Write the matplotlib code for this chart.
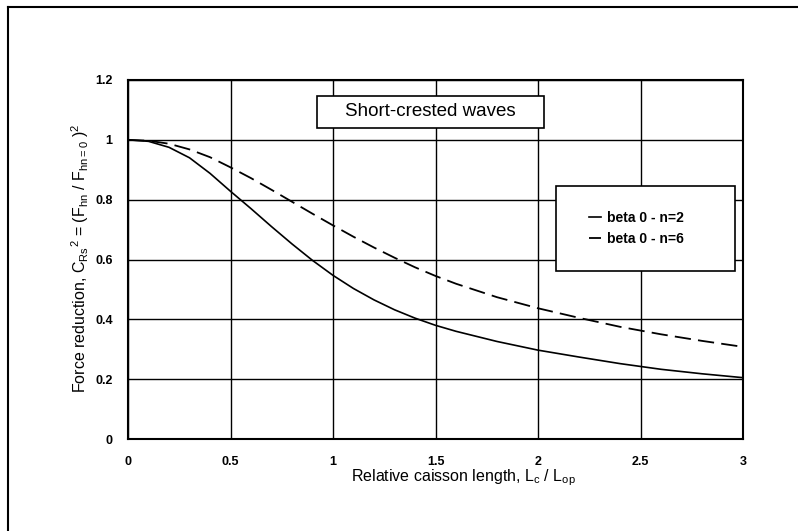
import matplotlib
matplotlib.use("Agg")
import matplotlib.pyplot as plt
from matplotlib.patches import Rectangle
from matplotlib.lines import Line2D

plt.rcParams['font.family'] = ['Liberation Sans', 'DejaVu Sans']
plt.rcParams['mathtext.fontset'] = 'custom'
plt.rcParams['mathtext.rm'] = 'Liberation Sans'
plt.rcParams['mathtext.it'] = 'Liberation Sans'

# relative caisson length Lc/Lop
x_rel = [0, 0.1, 0.2, 0.3, 0.4, 0.5, 0.6, 0.7, 0.8, 0.9, 1.0, 1.1, 1.2, 1.3,
         1.4, 1.5, 1.6, 1.8, 2.0, 2.2, 2.4, 2.6, 2.8, 3.0]
# force reduction, beta 0 - n=2
c_n2 = [1.0, 0.995, 0.975, 0.94, 0.888, 0.828, 0.77, 0.71, 0.652, 0.597, 0.547,
        0.503, 0.465, 0.432, 0.404, 0.38, 0.36, 0.326, 0.297, 0.274, 0.252,
        0.233, 0.218, 0.205]
# force reduction, beta 0 - n=6
c_n6 = [1.0, 0.997, 0.987, 0.968, 0.942, 0.908, 0.872, 0.833, 0.793, 0.753,
        0.714, 0.676, 0.64, 0.606, 0.574, 0.545, 0.519, 0.474, 0.437, 0.405,
        0.375, 0.35, 0.328, 0.308]

xticks = [0, 0.5, 1, 1.5, 2, 2.5, 3]
xticklabels = ['0', '0.5', '1', '1.5', '2', '2.5', '3']
yticks = [0, 0.2, 0.4, 0.6, 0.8, 1.0, 1.2]
yticklabels = ['0', '0.2', '0.4', '0.6', '0.8', '1', '1.2']
labels = ['beta 0 - n=2', 'beta 0 - n=6']

fig = plt.figure(figsize=(7.98, 5.31), dpi=100)
ax = fig.add_axes([128 / 798, 1 - 439 / 531, 615 / 798, 359 / 531])

l1, = ax.plot(x_rel, c_n2, color='black', lw=1.2)
l2, = ax.plot(x_rel, c_n6, color='black', lw=1.3, dashes=(9, 4))

ax.set_xlim(0, 3)
ax.set_ylim(0, 1.2)
ax.set_xticks(xticks)
ax.set_xticklabels(xticklabels, fontweight='bold', fontsize=9)
ax.set_yticks(yticks)
ax.set_yticklabels(yticklabels, fontweight='bold', fontsize=9)
ax.tick_params(length=0)
ax.tick_params(axis='x', pad=12)
ax.tick_params(axis='y', pad=11)
ax.grid(True, color='black', lw=1.0)
ax.set_axisbelow(True)
for s in ax.spines.values():
    s.set_linewidth(1.5)

fig.text(463 / 798, 1 - 478 / 531, r'Relative caisson length, L$_\mathrm{c}$ / L$_\mathrm{op}$',
         ha='center', va='center', fontsize=11.5)
fig.text(80 / 798, 1 - 258 / 531,
         r'Force reduction, C$_\mathrm{Rs}$$^\mathrm{2}$ = (F$_\mathrm{hn}$ / F$_\mathrm{hn=0}$ )$^\mathrm{2}$',
         ha='center', va='center', rotation=90, fontsize=11.5)

# title box
ax.add_patch(Rectangle((0.92, 1.04), 1.11, 0.107, facecolor='white',
                       edgecolor='black', lw=1.2, zorder=3))
ax.text(1.475, 1.094, 'Short-crested waves', ha='center', va='center',
        fontsize=13.5, zorder=4)

# legend box
ax.add_patch(Rectangle((2.09, 0.56), 0.87, 0.285, facecolor='white',
                       edgecolor='black', lw=1.2, zorder=3))
leg = ax.legend([l1, l2], labels, loc='center', bbox_to_anchor=(2.48, 0.705),
                bbox_transform=ax.transData, frameon=False, handlelength=0.9,
                handletextpad=0.4, labelspacing=0.5,
                prop={'weight': 'bold', 'size': 10})
leg.set_zorder(5)

# figure border
fig.add_artist(Line2D([8 / 798, 1], [1 - 7 / 531, 1 - 7 / 531], color='black', lw=1.5))
fig.add_artist(Line2D([8 / 798, 8 / 798], [0, 1 - 7 / 531], color='black', lw=1.5))

fig.savefig('out.png', dpi=100)
